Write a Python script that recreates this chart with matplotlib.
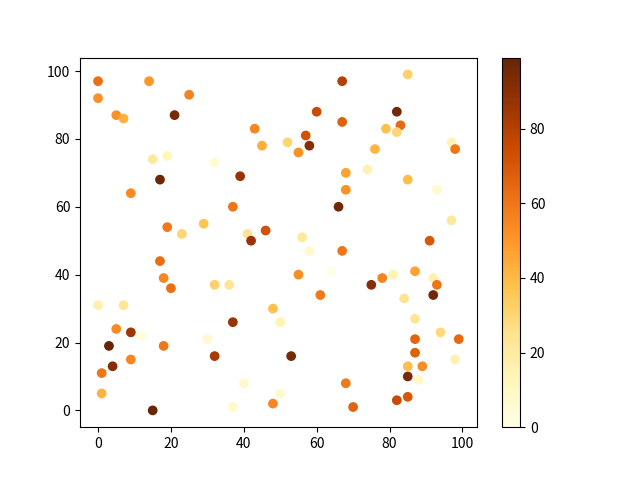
import numpy as np
import matplotlib
matplotlib.use("Agg")
import matplotlib.pyplot as plt

plt.rcParams['font.family'] = ['Noto Sans CJK SC', 'DejaVu Sans']

# x, y and colour value of each point
x = [0, 0, 14, 25, 5, 7, 21, 43, 45, 15,
     19, 32, 17, 39, 9, 37, 19, 23, 29, 41,
     46, 42, 67, 85, 60, 67, 82, 83, 79, 82,
     57, 52, 55, 58, 76, 97, 98, 68, 74, 85,
     93, 68, 66, 97, 56, 91, 17, 18, 20, 32,
     36, 0, 7, 48, 37, 5, 9, 12, 3, 18,
     30, 32, 9, 4, 1, 1, 40, 37, 15, 48,
     58, 67, 55, 64, 61, 75, 78, 81, 87, 92,
     93, 92, 84, 50, 87, 94, 99, 87, 87, 98,
     53, 85, 89, 85, 88, 50, 68, 70, 82, 85]
y = [97, 92, 97, 93, 87, 86, 87, 83, 78, 74,
     75, 73, 68, 69, 64, 60, 54, 52, 55, 52,
     53, 50, 97, 99, 88, 85, 88, 84, 83, 82,
     81, 79, 76, 78, 77, 79, 77, 70, 71, 68,
     65, 65, 60, 56, 51, 50, 44, 39, 36, 37,
     37, 31, 31, 30, 26, 24, 23, 22, 19, 19,
     21, 16, 15, 13, 11, 5, 8, 1, 0, 2,
     47, 47, 40, 41, 34, 37, 39, 40, 41, 39,
     37, 34, 33, 26, 27, 23, 21, 21, 17, 15,
     16, 13, 13, 10, 9, 5, 8, 1, 3, 4]
c = [62, 52, 50, 56, 52, 42, 95, 55, 44, 22,
     13, 6, 97, 87, 54, 60, 59, 30, 37, 24,
     72, 87, 80, 32, 75, 67, 96, 64, 38, 30,
     72, 30, 52, 91, 41, 14, 60, 47, 15, 39,
     7, 52, 96, 22, 22, 70, 63, 55, 62, 32,
     24, 17, 23, 38, 87, 54, 85, 3, 99, 60,
     7, 83, 55, 91, 60, 42, 7, 9, 98, 55,
     8, 60, 53, 0, 59, 91, 56, 15, 47, 16,
     60, 96, 24, 15, 23, 29, 64, 65, 67, 16,
     95, 39, 53, 94, 9, 8, 59, 66, 75, 70]

fig = plt.figure(figsize=(6.4, 4.8), dpi=100)
sc = plt.scatter(x, y, c=c, cmap='YlOrBr')
plt.colorbar(sc)
plt.savefig('out.png')
